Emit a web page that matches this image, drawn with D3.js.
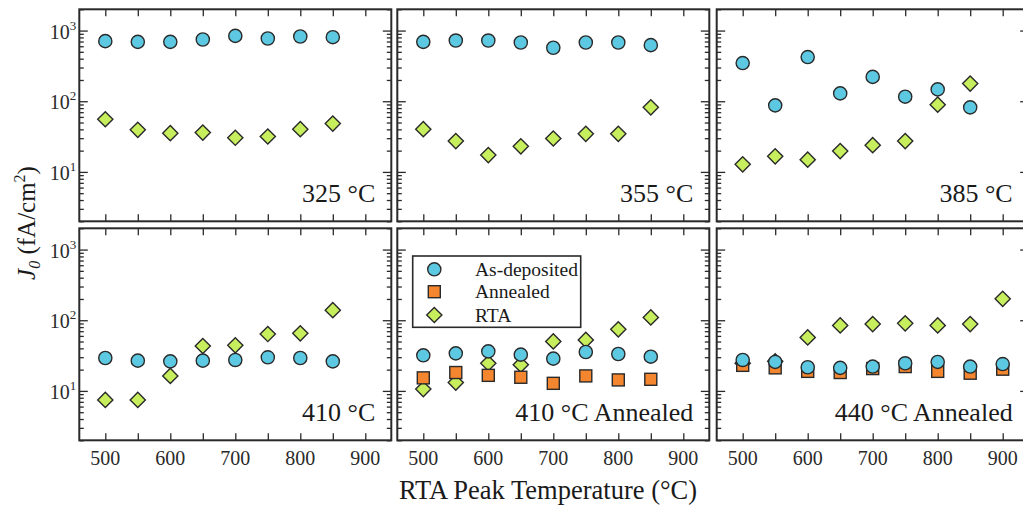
<!DOCTYPE html>
<html><head><meta charset="utf-8">
<script src="https://cdn.jsdelivr.net/npm/d3@7"></script>
<style>
html,body{margin:0;padding:0;background:#fff;}
svg{display:block;font-family:"Liberation Serif","Times New Roman",serif;}
</style></head>
<body>
<svg id="chart" width="1023" height="505"></svg>
<script>
// ---- data ----
const temps = [500, 550, 600, 650, 700, 750, 800, 850];
const temps440 = [500, 550, 600, 650, 700, 750, 800, 850, 900];
const xTickLabels = [500, 600, 700, 800, 900];
const yTickLabels = [1, 2, 3]; // exponents 10^1..10^3
const panelLabels = ["325 °C", "355 °C", "385 °C", "410 °C", "410 °C Annealed", "440 °C Annealed"];
const seriesNames = ["As-deposited", "Annealed", "RTA"];

const asDep325 = [708, 693, 693, 747, 841, 772, 824, 806];
const rta325 = [55.6, 39.4, 35.3, 36.0, 30.4, 31.7, 40.2, 48.3];
const asDep355 = [693, 723, 723, 678, 571, 678, 678, 622];
const rta355 = [40.2, 27.3, 17.3, 23.0, 29.7, 34.6, 34.6, 81.9];
const asDep385 = [347, 87.4, 422, 129, 221, 116, 147, 82];
const rta385 = [12.8, 16.6, 14.9, 19.7, 23.9, 27.3, 89.3, 178];
const asDep410 = [29.2, 26.8, 26.2, 26.8, 27.4, 29.9, 29.2, 26.2];
const rta410 = [7.46, 7.46, 16.3, 43.2, 44.1, 63.8, 65.2, 139];
const asDep410A = [31.9, 34.0, 36.3, 32.6, 28.6, 35.5, 33.3, 30.5];
const ann410A = [15.3, 18.2, 16.6, 15.6, 12.8, 16.3, 14.3, 14.6];
const rta410A = [10.6, 13.1, 24.6, 23.5, 50.2, 52.6, 74.3, 109.6];
const asDep440A = [27.4, 25.7, 21.6, 21.2, 22.1, 24.6, 25.7, 22.1, 24.0];
const ann440A = [23.0, 21.2, 18.9, 18.2, 20.7, 22.1, 18.9, 17.8, 20.3];
const rta440A = [24.6, 26.2, 57.2, 84.5, 88.3, 90.3, 84.5, 88.3, 201];

// ---- layout ----
const colX = [79.3, 397.3, 716.7];
const rowY = [9.3, 228.3];
const PW = 312, PH = 212;
const colors = {"As-deposited": "#5cc8e1", "Annealed": "#f3862f", "RTA": "#c7ee5c"};
const ink = "#2a2a2a";

const panels = [
  {label: panelLabels[0], col: 0, row: 0, x: temps, series: {"RTA": rta325, "As-deposited": asDep325}},
  {label: panelLabels[1], col: 1, row: 0, x: temps, series: {"RTA": rta355, "As-deposited": asDep355}},
  {label: panelLabels[2], col: 2, row: 0, x: temps, series: {"RTA": rta385, "As-deposited": asDep385}},
  {label: panelLabels[3], col: 0, row: 1, x: temps, series: {"RTA": rta410, "As-deposited": asDep410}},
  {label: panelLabels[4], col: 1, row: 1, x: temps, series: {"RTA": rta410A, "Annealed": ann410A, "As-deposited": asDep410A}, legend: true},
  {label: panelLabels[5], col: 2, row: 1, x: temps440, series: {"RTA": rta440A, "Annealed": ann440A, "As-deposited": asDep440A}}
];

const svg = d3.select("#chart");

function drawMarker(g, name, cx, cy) {
  if (name === "As-deposited") {
    g.append("circle").attr("cx", cx).attr("cy", cy).attr("r", 6.6)
      .attr("fill", colors[name]).attr("stroke", ink).attr("stroke-width", 1.4);
  } else if (name === "Annealed") {
    g.append("rect").attr("x", cx - 6).attr("y", cy - 6).attr("width", 12).attr("height", 12)
      .attr("fill", colors[name]).attr("stroke", ink).attr("stroke-width", 1.4);
  } else {
    const s = 7.6;
    g.append("path").attr("d", `M${cx},${cy - s}L${cx + s},${cy}L${cx},${cy + s}L${cx - s},${cy}Z`)
      .attr("fill", colors[name]).attr("stroke", ink).attr("stroke-width", 1.4);
  }
}

panels.forEach(p => {
  const x0 = colX[p.col], y0 = rowY[p.row];
  const x = d3.scaleLinear().domain([460, 940]).range([x0, x0 + PW]);
  const y = d3.scaleLog().domain([2, 2000]).range([y0 + PH, y0]);
  const g = svg.append("g");

  const clipId = `clip${p.col}${p.row}`;
  svg.append("clipPath").attr("id", clipId).append("rect")
    .attr("x", x0).attr("y", y0).attr("width", PW).attr("height", PH);

  const xTicks = d3.range(500, 901, 50);
  const majorY = [10, 100, 1000];
  const minorY = [];
  [1, 10, 100, 1000].forEach(d => { for (let k = 2; k <= 9; k++) { const v = d * k; if (v >= 2 && v <= 2000) minorY.push(v); } });

  const axB = d3.axisBottom(x).tickValues(xTicks).tickSizeInner(-7).tickSizeOuter(0).tickFormat(() => "");
  const axT = d3.axisTop(x).tickValues(xTicks).tickSizeInner(-7).tickSizeOuter(0).tickFormat(() => "");
  const gB = g.append("g").attr("transform", `translate(0,${y0 + PH})`).call(axB);
  const gT = g.append("g").attr("transform", `translate(0,${y0})`).call(axT);
  const axLmaj = d3.axisLeft(y).tickValues(majorY).tickSizeInner(-8.5).tickSizeOuter(0).tickFormat(() => "");
  const axLmin = d3.axisLeft(y).tickValues(minorY).tickSizeInner(-4.5).tickSizeOuter(0).tickFormat(() => "");
  const axRmaj = d3.axisRight(y).tickValues(majorY).tickSizeInner(-8.5).tickSizeOuter(0).tickFormat(() => "");
  const axRmin = d3.axisRight(y).tickValues(minorY).tickSizeInner(-4.5).tickSizeOuter(0).tickFormat(() => "");
  const gs = [gB, gT,
    g.append("g").attr("transform", `translate(${x0},0)`).call(axLmaj),
    g.append("g").attr("transform", `translate(${x0},0)`).call(axLmin),
    g.append("g").attr("transform", `translate(${x0 + PW},0)`).call(axRmaj),
    g.append("g").attr("transform", `translate(${x0 + PW},0)`).call(axRmin)];
  gs.forEach(a => {
    a.select(".domain").remove();
    a.selectAll(".tick line").attr("stroke", ink).attr("stroke-width", 1.3);
  });

  g.append("rect").attr("x", x0).attr("y", y0).attr("width", PW).attr("height", PH)
    .attr("fill", "none").attr("stroke", ink).attr("stroke-width", 2);

  if (p.row === 1) {
    g.selectAll(".xl").data(xTickLabels).enter().append("text")
      .attr("x", d => x(d)).attr("y", y0 + PH + 24.5)
      .attr("text-anchor", "middle").attr("font-size", 20).attr("fill", ink)
      .text(d => d);
  }
  if (p.col === 0) {
    yTickLabels.forEach(e => {
      const t = g.append("text").attr("x", x0 - 3).attr("y", y(Math.pow(10, e)) + 8)
        .attr("text-anchor", "end").attr("font-size", 20).attr("fill", ink);
      t.append("tspan").text("10");
      t.append("tspan").attr("font-size", 13).attr("dy", -9).text(e);
    });
  }

  g.append("text").attr("x", x0 + PW - 16).attr("y", y0 + PH - 19)
    .attr("text-anchor", "end").attr("font-size", 26).attr("fill", "#1a1a1a").text(p.label);

  const mg = g.append("g").attr("clip-path", `url(#${clipId})`);
  ["RTA", "Annealed", "As-deposited"].forEach(name => {
    const vals = p.series[name];
    if (!vals) return;
    vals.forEach((v, i) => drawMarker(mg, name, x(p.x[i]), y(v)));
  });

  if (p.legend) {
    const lg = g.append("g");
    lg.append("rect").attr("x", 412.7).attr("y", 256).attr("width", 168).attr("height", 71.3)
      .attr("fill", "#fff").attr("stroke", ink).attr("stroke-width", 1.6);
    const ly = [269.3, 291.7, 315];
    seriesNames.forEach((n, i) => {
      drawMarker(lg, n, 434.3, ly[i]);
      lg.append("text").attr("x", 475).attr("y", ly[i] + 6.5).attr("font-size", 19.5)
        .attr("fill", "#1a1a1a").text(n);
    });
  }
});

svg.append("text").attr("x", 548).attr("y", 499).attr("text-anchor", "middle")
  .attr("font-size", 26.5).attr("fill", "#1a1a1a").text("RTA Peak Temperature (°C)");

const yl = svg.append("text").attr("transform", "translate(35,223) rotate(-90)")
  .attr("text-anchor", "middle").attr("font-size", 25).attr("fill", "#1a1a1a");
yl.append("tspan").attr("font-style", "italic").text("J");
yl.append("tspan").attr("font-style", "italic").attr("font-size", 16).attr("dy", 5).text("0");
yl.append("tspan").attr("dy", -5).text(" (fA/cm");
yl.append("tspan").attr("font-size", 16).attr("dy", -10).text("2");
yl.append("tspan").attr("dy", 10).text(")");
</script>
</body></html>
